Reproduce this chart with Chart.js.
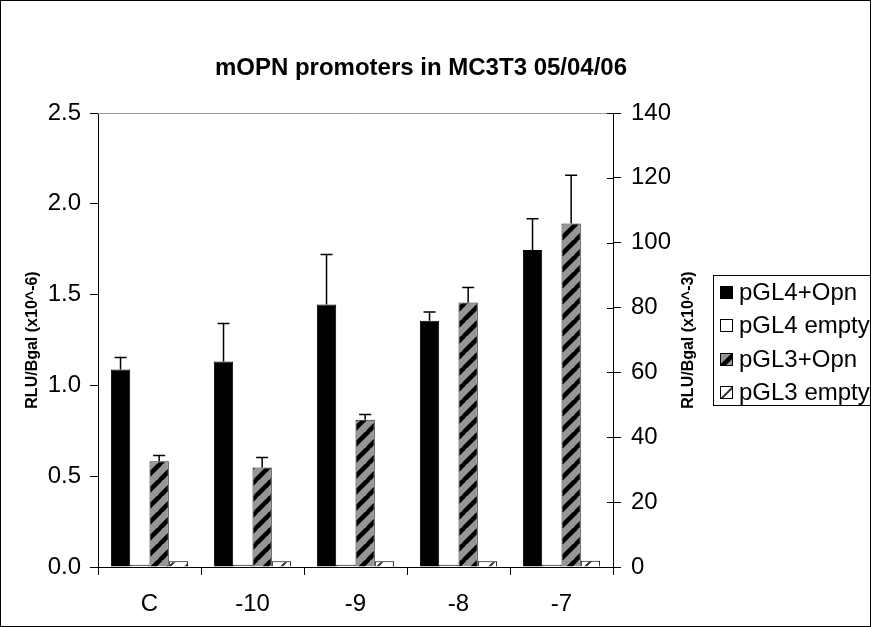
<!DOCTYPE html>
<html>
<head>
<meta charset="utf-8">
<script src="https://cdn.jsdelivr.net/npm/chart.js@4.4.1/dist/chart.umd.min.js"></script>
<style>
html, body { margin: 0; padding: 0; background: #fff; }
canvas { display: block; }
</style>
</head>
<body>
<canvas id="graph_mopn" width="871" height="627"></canvas>
<script>
/* data */
var categories = ['C', '-10', '-9', '-8', '-7']
var seriesNames = ['pGL4+Opn', 'pGL4 empty', 'pGL3+Opn', 'pGL3 empty']
var pgl4_opn = [1.088, 1.132, 1.446, 1.356, 1.745]
var pgl4_opn_err = [0.066, 0.209, 0.275, 0.048, 0.173]
var pgl4_empty = [0.012, 0.012, 0.012, 0.012, 0.012]
var pgl3_opn = [32.6, 30.7, 45.4, 81.6, 105.9]
var pgl3_opn_err = [1.8, 3.1, 1.6, 4.6, 14.9]
var pgl3_empty = [1.8, 1.8, 1.8, 1.8, 1.9]
var leftTicks = [0, 0.5, 1.0, 1.5, 2.0, 2.5]
var rightTicks = [0, 20, 40, 60, 80, 100, 120, 140]

Chart.defaults.font.family = "'Liberation Sans', Arial, sans-serif"
Chart.defaults.color = '#000'

var ctx_mopn = document.getElementById('graph_mopn').getContext('2d')

// diagonal "/" hatch like the excel fill
function hatch(bg, fg, lw) {
  var c = document.createElement('canvas')
  c.width = 16; c.height = 16
  var g = c.getContext('2d')
  g.fillStyle = bg
  g.fillRect(0, 0, 16, 16)
  g.strokeStyle = fg
  g.lineWidth = lw
  for (var k = 0; k <= 32; k += 16) {
    g.beginPath()
    g.moveTo(k + 1, -1)
    g.lineTo(k - 17, 17)
    g.stroke()
  }
  return ctx_mopn.createPattern(c, 'repeat')
}
var stripeGray = hatch('#969696', '#000', 4.5)
var stripeWhite = hatch('#fff', '#333', 2)

var errorsBySet = [pgl4_opn_err, null, pgl3_opn_err, null]

var extras = {
  id: 'extras',
  beforeDraw: function (chart) {
    var c = chart.ctx
    c.save()
    c.fillStyle = '#fff'
    c.fillRect(0, 0, chart.width, chart.height)
    c.strokeStyle = '#000'
    c.lineWidth = 1
    c.strokeRect(0.5, 0.5, chart.width - 1, chart.height - 1)
    c.restore()
  },
  afterDatasetsDraw: function (chart) {
    var c = chart.ctx
    c.save()
    c.strokeStyle = '#000'
    c.lineWidth = 1.5
    chart.data.datasets.forEach(function (ds, i) {
      var errs = errorsBySet[i]
      if (!errs) return
      var meta = chart.getDatasetMeta(i)
      var sc = chart.scales[ds.yAxisID]
      meta.data.forEach(function (bar, j) {
        var yTop = sc.getPixelForValue(ds.data[j] + errs[j])
        c.beginPath()
        c.moveTo(bar.x, bar.y)
        c.lineTo(bar.x, yTop)
        c.moveTo(bar.x - 6, yTop)
        c.lineTo(bar.x + 6, yTop)
        c.stroke()
      })
    })
    c.restore()
  },
  afterDraw: function (chart) {
    var c = chart.ctx
    var a = chart.chartArea
    var y1 = chart.scales.y1
    c.save()
    // plot area top edge
    c.strokeStyle = '#999'
    c.lineWidth = 1
    c.beginPath()
    c.moveTo(a.left, a.top + 0.5)
    c.lineTo(a.right, a.top + 0.5)
    c.stroke()
    // right axis ticks cross the axis
    c.strokeStyle = '#000'
    rightTicks.forEach(function (v) {
      var y = Math.round(y1.getPixelForValue(v)) + 0.5
      c.beginPath()
      c.moveTo(a.right - 6, y)
      c.lineTo(a.right, y)
      c.stroke()
    })
    // title
    c.fillStyle = '#000'
    c.font = "bold 24px 'Liberation Sans', Arial, sans-serif"
    c.textAlign = 'center'
    c.textBaseline = 'middle'
    c.fillText('mOPN promoters in MC3T3 05/04/06', 421, 68)
    // right axis title, reads bottom to top like the left one
    c.save()
    c.translate(689, (a.top + a.bottom) / 2)
    c.rotate(-Math.PI / 2)
    c.font = "bold 16px 'Liberation Sans', Arial, sans-serif"
    c.fillText('RLU/Bgal (x10^-3)', 0, 0)
    c.restore()
    // legend
    c.strokeStyle = '#000'
    c.strokeRect(713.5, 275.5, 200, 130)
    c.font = "24px 'Liberation Sans', Arial, sans-serif"
    c.textAlign = 'left'
    chart.data.datasets.forEach(function (ds, i) {
      var y = 292 + i * 33.6
      c.fillStyle = ds.backgroundColor
      c.fillRect(720, Math.round(y - 6.5), 13, 13)
      c.strokeRect(720.5, Math.round(y - 6.5) + 0.5, 12, 12)
      c.fillStyle = '#000'
      c.fillText(ds.label, 739, y + 1)
    })
    c.restore()
  }
}

var data_mopn = {
  labels: categories,
  datasets: [
    { label: seriesNames[0], data: pgl4_opn, yAxisID: 'y', backgroundColor: '#000', borderColor: '#000', borderWidth: 1 },
    { label: seriesNames[1], data: pgl4_empty, yAxisID: 'y', backgroundColor: '#fff', borderColor: '#000', borderWidth: 1 },
    { label: seriesNames[2], data: pgl3_opn, yAxisID: 'y1', backgroundColor: stripeGray, borderColor: '#222', borderWidth: 1 },
    { label: seriesNames[3], data: pgl3_empty, yAxisID: 'y1', backgroundColor: stripeWhite, borderColor: '#000', borderWidth: 1 }
  ]
}

var config_mopn = {
  type: 'bar',
  data: data_mopn,
  plugins: [extras],
  options: {
    responsive: false,
    animation: false,
    layout: { padding: { top: 113 } },
    datasets: { bar: { categoryPercentage: 0.75, barPercentage: 1 } },
    plugins: {
      legend: { display: false },
      title: { display: false },
      tooltip: { enabled: false }
    },
    scales: {
      x: {
        grid: { offset: true, drawOnChartArea: false, tickLength: 8, color: '#000' },
        border: { color: '#000' },
        ticks: { font: { size: 24 }, padding: 15 },
        afterFit: function (s) { s.height = 60 }
      },
      y: {
        position: 'left',
        min: 0,
        max: 2.5,
        afterBuildTicks: function (s) { s.ticks = leftTicks.map(function (v) { return { value: v } }) },
        ticks: { font: { size: 24 }, padding: 9, callback: function (v) { return v.toFixed(1) } },
        grid: { drawOnChartArea: false, tickLength: 8, color: '#000' },
        border: { color: '#000' },
        title: { display: true, text: 'RLU/Bgal (x10^-6)', font: { size: 16, weight: 'bold' }, padding: { top: 23, bottom: 0 } },
        afterFit: function (s) { s.width = 98 }
      },
      y1: {
        position: 'right',
        min: 0,
        max: 140,
        afterBuildTicks: function (s) { s.ticks = rightTicks.map(function (v) { return { value: v } }) },
        ticks: { font: { size: 24 }, padding: 10 },
        grid: { drawOnChartArea: false, tickLength: 8, color: '#000' },
        border: { color: '#000' },
        afterFit: function (s) { s.width = 258 }
      }
    }
  }
}

var graph_mopn = new Chart(ctx_mopn, config_mopn)
</script>
</body>
</html>
